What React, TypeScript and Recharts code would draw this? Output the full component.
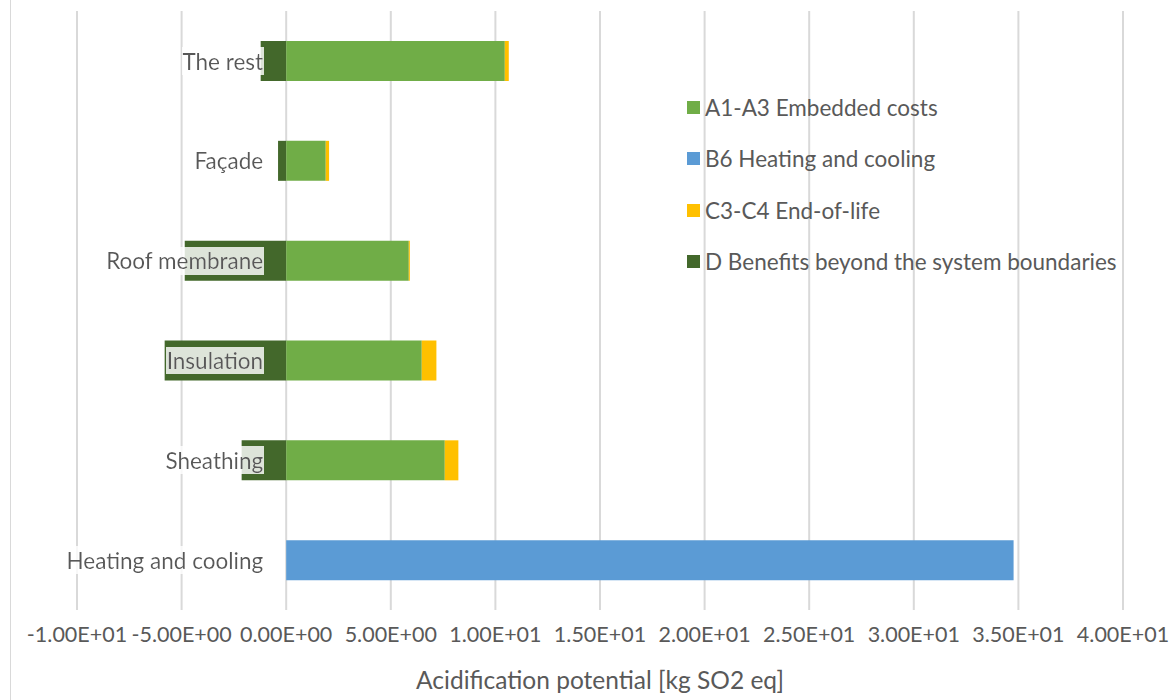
import React from 'react';
import { BarChart, Bar, XAxis, YAxis, CartesianGrid, LabelList } from 'recharts';

const CATEGORIES = ['The rest', 'Façade', 'Roof membrane', 'Insulation', 'Sheathing', 'Heating and cooling'];
const A1_A3 = [10.45, 1.89, 5.86, 6.48, 7.58, 0];
const B6 = [0, 0, 0, 0, 0, 34.77];
const C3_C4 = [0.19, 0.16, 0.05, 0.7, 0.65, 0];
const D_BENEFITS = [-1.22, -0.39, -4.85, -5.81, -2.13, 0];
const X_TICKS = [-10, -5, 0, 5, 10, 15, 20, 25, 30, 35, 40];

const SERIES = [
  { key: 'a13', name: 'A1-A3 Embedded costs', color: '#70AD47' },
  { key: 'b6', name: 'B6 Heating and cooling', color: '#5B9BD5' },
  { key: 'c34', name: 'C3-C4 End-of-life', color: '#FFC000' },
  { key: 'd', name: 'D Benefits beyond the system boundaries', color: '#43682B' },
];

const data = CATEGORIES.map((name, i) => ({
  name,
  a13: A1_A3[i],
  b6: B6[i],
  c34: C3_C4[i],
  d: D_BENEFITS[i],
}));

const FONT = 'Lato, "Open Sans", sans-serif';
const TEXT = '#595959';

const fmtSci = (v: number) => {
  if (v === 0) return '0.00E+00';
  const e = Math.floor(Math.log10(Math.abs(v)));
  const m = v / Math.pow(10, e);
  return `${m.toFixed(2)}E${e < 0 ? '-' : '+'}${String(Math.abs(e)).padStart(2, '0')}`;
};

// category name drawn just left of the zero line, on a translucent white box
const CategoryLabel = (props: any) => {
  const vb = props.viewBox || {};
  const x = props.x ?? vb.x;
  const y = props.y ?? vb.y;
  const w = props.width ?? vb.width;
  const h = props.height ?? vb.height;
  if (!w || w <= 0) return null;
  return (
    <text
      x={x - 23}
      y={y + h / 2}
      textAnchor="end"
      dominantBaseline="central"
      filter="url(#lblbg)"
      fill={TEXT}
      fontSize={22.5}
      fontFamily={FONT}
    >
      {props.value}
    </text>
  );
};

const LegendBox = () => (
  <div style={{ position: 'absolute', left: 687, top: 82, fontFamily: FONT }}>
    {SERIES.map((s) => (
      <div key={s.key} style={{ display: 'flex', alignItems: 'center', height: 51.3 }}>
        <span style={{ width: 13, height: 13, background: s.color, marginRight: 5, display: 'inline-block' }} />
        <span style={{ fontSize: 22.5, color: TEXT, whiteSpace: 'nowrap' }}>{s.name}</span>
      </div>
    ))}
  </div>
);

export default function App() {
  return (
    <div style={{ position: 'absolute', left: 0, top: 0, width: 1172, height: 700, background: '#fff' }}>
      <div style={{ position: 'absolute', left: 10, top: 0, width: 1, height: 700, background: '#d9d9d9' }} />
      <BarChart
        width={1172}
        height={700}
        data={data}
        layout="vertical"
        stackOffset="sign"
        barSize={40}
        margin={{ top: 11, right: 49, bottom: 0, left: 77 }}
      >
        <defs>
          <filter id="lblbg" x="0" y="0" width="1" height="1">
            <feFlood floodColor="#ffffff" floodOpacity="0.82" />
            <feComposite in="SourceGraphic" operator="over" />
          </filter>
        </defs>
        <CartesianGrid horizontal={false} stroke="#d9d9d9" strokeWidth={2} />
        <XAxis
          type="number"
          domain={[-10, 40]}
          ticks={X_TICKS}
          interval={0}
          tickFormatter={fmtSci}
          axisLine={false}
          tickLine={false}
          tickMargin={11}
          height={90}
          tick={{ fontSize: 21.5, fill: TEXT, fontFamily: FONT }}
          label={{
            value: 'Acidification potential [kg SO2 eq]',
            position: 'insideBottom',
            offset: 11,
            fontSize: 24.5,
            fill: TEXT,
            fontFamily: FONT,
          }}
        />
        <YAxis type="category" dataKey="name" hide />
        <Bar dataKey="d" name={SERIES[3].name} stackId="s" fill={SERIES[3].color} isAnimationActive={false} />
        <Bar dataKey="a13" name={SERIES[0].name} stackId="s" fill={SERIES[0].color} isAnimationActive={false}>
          <LabelList dataKey="name" content={CategoryLabel} />
        </Bar>
        <Bar dataKey="b6" name={SERIES[1].name} stackId="s" fill={SERIES[1].color} isAnimationActive={false}>
          <LabelList dataKey="name" content={CategoryLabel} />
        </Bar>
        <Bar dataKey="c34" name={SERIES[2].name} stackId="s" fill={SERIES[2].color} isAnimationActive={false} />
      </BarChart>
      <LegendBox />
    </div>
  );
}
